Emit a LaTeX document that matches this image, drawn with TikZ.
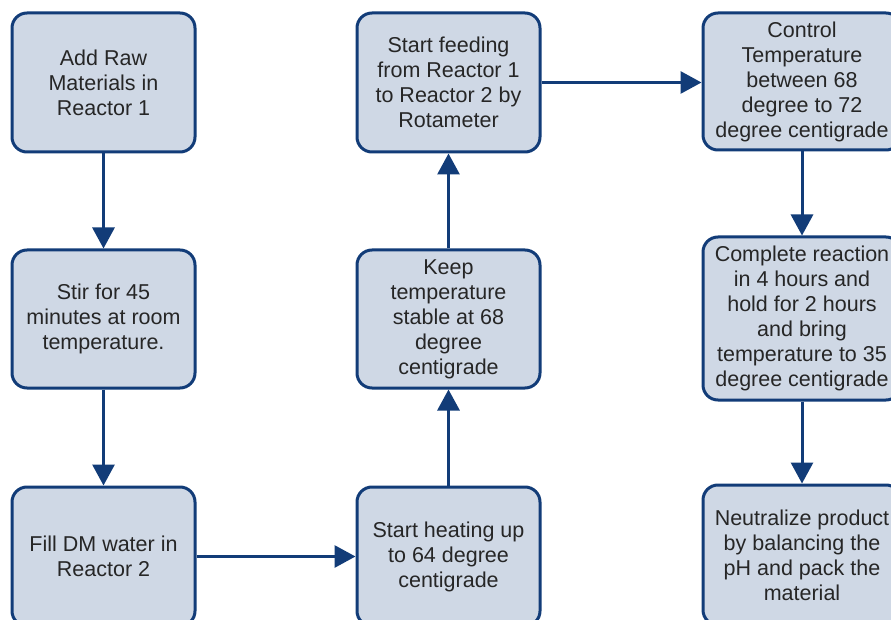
\documentclass[tikz,border=0pt]{standalone}
\usepackage{fontspec}
\setmainfont{Liberation Sans}
\usetikzlibrary{arrows.meta}
\definecolor{navy}{HTML}{123C78}
\definecolor{boxfill}{HTML}{CFD8E5}
\definecolor{ink}{HTML}{262626}
\tikzset{
  stepbox/.style={draw=navy, line width=3pt, fill=boxfill, rounded corners=15pt,
    text=ink, align=center, inner sep=0pt,
    font=\fontsize{21.5}{25}\selectfont},
  flow/.style={draw=navy, line width=3pt, -{Triangle[width=22pt,length=21pt]}},
}
\begin{document}
\begin{tikzpicture}[x=1pt,y=-1pt]
\useasboundingbox (0,0) rectangle (891,620);
\fill[white] (0,0) rectangle (891,620);
% first column
\node[stepbox, minimum width=183pt, minimum height=139pt] (a1) at (103.5,82.5)
  {Add Raw\\Materials in\\Reactor 1};
\node[stepbox, minimum width=183pt, minimum height=138pt] (a2) at (103.5,319)
  {Stir for 45\\minutes at room\\temperature.};
\node[stepbox, minimum width=183pt, minimum height=139pt] (a3) at (103.5,556.5)
  {Fill DM water in\\Reactor 2};
% second column
\node[stepbox, minimum width=183pt, minimum height=139pt] (b3) at (448.5,556.5)
  {Start heating up\\to 64 degree\\centigrade};
\node[stepbox, minimum width=183pt, minimum height=138pt] (b2) at (448.5,319)
  {Keep\\temperature\\stable at 68\\degree\\centigrade};
\node[stepbox, minimum width=183pt, minimum height=139pt] (b1) at (448.5,82.5)
  {Start feeding\\from Reactor 1\\to Reactor 2 by\\Rotameter};
% third column
\node[stepbox, minimum width=198pt, minimum height=137pt] (c1) at (802,81.5)
  {Control\\Temperature\\between 68\\degree to 72\\degree centigrade};
\node[stepbox, minimum width=198pt, minimum height=163pt] (c2) at (802,318.5)
  {Complete reaction\\in 4 hours and\\hold for 2 hours\\and bring\\temperature to 35\\degree centigrade};
\node[stepbox, minimum width=198pt, minimum height=140pt] (c3) at (802,555)
  {Neutralize product\\by balancing the\\pH and pack the\\material};
% connectors
\draw[flow] (a1) -- (a2);
\draw[flow] (a2) -- (a3);
\draw[flow] (a3) -- (b3);
\draw[flow] (b3) -- (b2);
\draw[flow] (b2) -- (b1);
\draw[flow] (b1.east) -- (c1.west |- b1.east);
\draw[flow] (c1) -- (c2);
\draw[flow] (c2) -- (c3);
\end{tikzpicture}
\end{document}
